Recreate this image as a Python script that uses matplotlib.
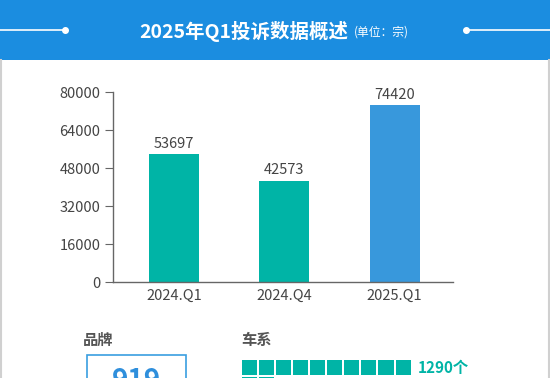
import matplotlib
matplotlib.use("Agg")
import matplotlib.pyplot as plt
from matplotlib.patches import Rectangle

plt.rcParams['font.family'] = ['Noto Sans CJK SC', 'DejaVu Sans']

# data
quarters = ["2024.Q1", "2024.Q4", "2025.Q1"]
complaints = [53697, 42573, 74420]
bar_colors = ["#00b4a6", "#00b4a6", "#3898dc"]
y_ticks = [0, 16000, 32000, 48000, 64000, 80000]
title = "2025年Q1投诉数据概述"
unit = "(单位：宗)"
brand_count = "919"
series_count = 1290
series_squares = [10, 2]   # visible squares per row

W, H = 550, 378
fig = plt.figure(figsize=(W / 100, H / 100), dpi=100)
fig.patch.set_facecolor("white")

def fx(px):
    return px / W

def fy(py):
    return 1 - py / H

# header band
fig.patches.append(Rectangle((0, fy(60)), 1, 60 / H, transform=fig.transFigure,
                             facecolor="#1b8de0", edgecolor="none", zorder=0))
fig.add_artist(plt.Line2D([0, fx(65)], [fy(30), fy(30)], color="white", lw=1.2))
fig.add_artist(plt.Line2D([fx(65)], [fy(30)], marker="o", ms=4, color="white"))
fig.add_artist(plt.Line2D([fx(466), 1], [fy(30), fy(30)], color="white", lw=1.2))
fig.add_artist(plt.Line2D([fx(466)], [fy(30)], marker="o", ms=4, color="white"))
fig.text(fx(348), fy(31), title, color="white", fontsize=14, fontweight="bold",
         ha="right", va="center")
fig.text(fx(354), fy(32), unit, color="white", fontsize=8.5, ha="left", va="center")

# side borders
fig.add_artist(plt.Line2D([fx(1), fx(1)], [0, fy(60)], color="#d0d0d0", lw=1.5))
fig.add_artist(plt.Line2D([fx(548.5), fx(548.5)], [0, fy(60)], color="#d0d0d0", lw=1.5))

# bar chart
ax = fig.add_axes([fx(113), fy(282), fx(453) - fx(113), (282 - 92) / H])
x = range(len(quarters))
ax.bar(x, complaints, width=0.455, color=bar_colors)
for xi, v in zip(x, complaints):
    ax.text(xi, v + 1500, str(v), ha="center", va="bottom", fontsize=10.5, color="#444444")
ax.set_xlim(-0.555, 2.53)
ax.set_ylim(0, 80000)
ax.set_yticks(y_ticks)
ax.set_yticklabels([str(t) for t in y_ticks])
ax.set_xticks(list(x))
ax.set_xticklabels(quarters)
for s in ["top", "right"]:
    ax.spines[s].set_visible(False)
for s in ["left", "bottom"]:
    ax.spines[s].set_color("#666666")
    ax.spines[s].set_linewidth(1)
ax.tick_params(axis="y", length=6, color="#666666", labelsize=10.5, labelcolor="#444444", pad=3)
ax.tick_params(axis="x", length=0, labelsize=10.5, labelcolor="#444444", pad=5)
ax.set_facecolor("none")

# bottom section: brand
fig.text(fx(83), fy(340), "品牌", fontsize=11, fontweight="bold", color="#555555",
         ha="left", va="center")
fig.patches.append(Rectangle((fx(87), fy(390)), fx(186) - fx(87), (390 - 355) / H,
                             transform=fig.transFigure, facecolor="white",
                             edgecolor="#3a9ee0", lw=1.2))
fig.text(fx(136), fy(367), brand_count, fontsize=20, fontweight="bold", color="#2f8fdc",
         ha="center", va="top")

# bottom section: series (pictogram squares, 17 px per unit)
unit_px = (412 - 241) / 10
wax = fig.add_axes([fx(241), 0, fx(412) - fx(241), fy(358)])
wax.set_xlim(0, 10)
ytop = 1.0 + 2 / unit_px
wax.set_ylim(ytop - 20 / unit_px, ytop)
wax.axis("off")
for row, n in enumerate(series_squares):
    for i in range(n):
        wax.add_patch(Rectangle((i + 0.04, 1.0 - 0.88 - row * 1.0), 0.88, 0.88,
                                color="#00b4a6", lw=0))

fig.text(fx(241), fy(340), "车系", fontsize=11, fontweight="bold", color="#555555",
         ha="left", va="center", zorder=5)
fig.text(fx(418), fy(368), f"{series_count}个", fontsize=11, fontweight="bold",
         color="#00b4a6", ha="left", va="center", zorder=5)

fig.savefig("out.png", dpi=100)
